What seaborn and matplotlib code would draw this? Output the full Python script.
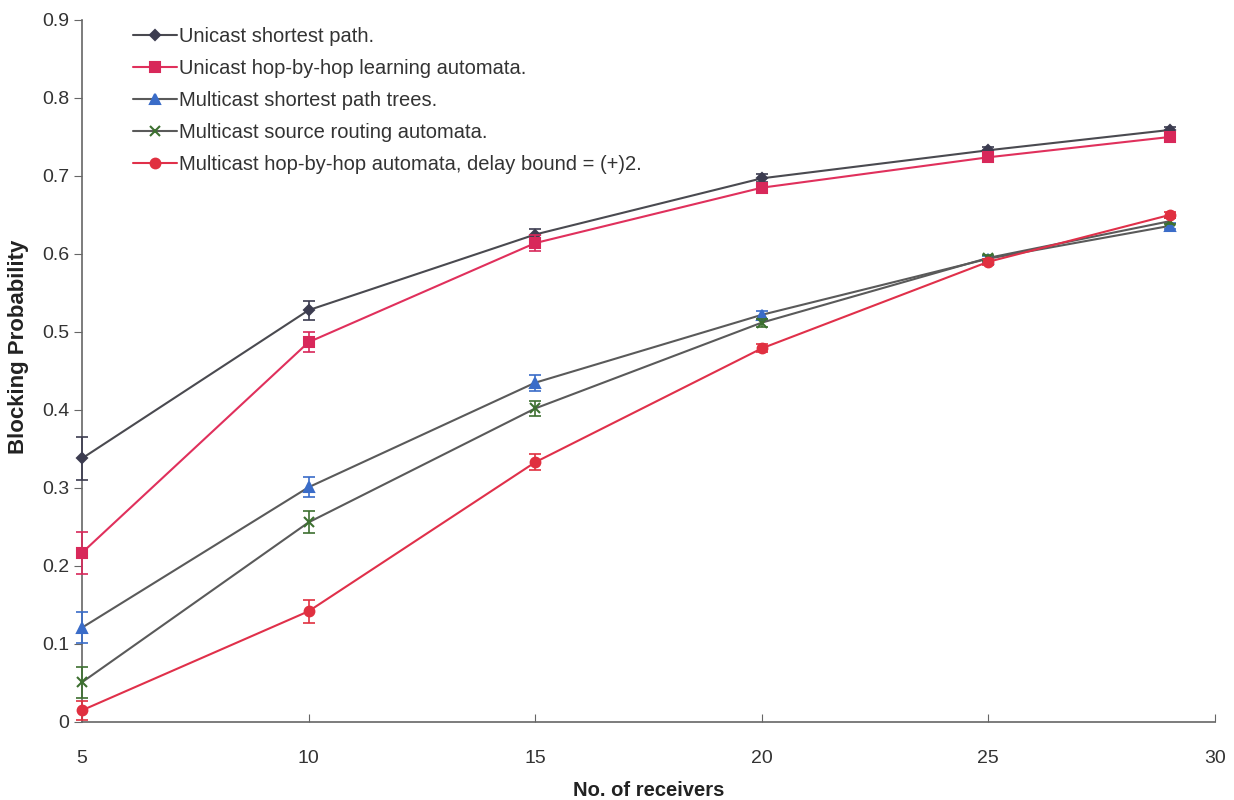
import matplotlib
matplotlib.use('Agg')
import matplotlib.pyplot as plt
import seaborn as sns

# 수신자 수 (x축)
receivers = [5, 10, 15, 20, 25, 29]

# 각 기법의 차단 확률과 오차
uni_sp = [0.338, 0.528, 0.625, 0.697, 0.733, 0.759]
uni_sp_err = [0.028, 0.012, 0.007, 0.005, 0.004, 0.004]
uni_hbh = [0.217, 0.487, 0.614, 0.685, 0.724, 0.750]
uni_hbh_err = [0.027, 0.013, 0.010, 0.005, 0.004, 0.004]
mc_spt = [0.121, 0.301, 0.435, 0.522, 0.594, 0.636]
mc_spt_err = [0.020, 0.013, 0.010, 0.005, 0.004, 0.004]
mc_src = [0.051, 0.256, 0.402, 0.512, 0.595, 0.642]
mc_src_err = [0.020, 0.014, 0.010, 0.005, 0.004, 0.004]
mc_hbh = [0.015, 0.142, 0.333, 0.479, 0.590, 0.650]
mc_hbh_err = [0.012, 0.015, 0.010, 0.005, 0.004, 0.004]

labels = ['Unicast shortest path.',
          'Unicast hop-by-hop learning automata.',
          'Multicast shortest path trees.',
          'Multicast source routing automata.',
          'Multicast hop-by-hop automata, delay bound = (+)2.']

sns.set_style('white')
plt.rcParams['font.family'] = ['Liberation Sans', 'DejaVu Sans']

fig = plt.figure(figsize=(12.34, 8), dpi=100)
ax = fig.add_axes([0.0665, 0.0975, 0.918, 0.8775])

# (값, 오차, 선 색, 마커, 마커 색, 크기)
series = [
    (uni_sp, uni_sp_err, '#4a4a50', 'D', '#3c3c50', 5),
    (uni_hbh, uni_hbh_err, '#e0305c', 's', '#d8285a', 7),
    (mc_spt, mc_spt_err, '#5a5a5a', '^', '#3a6cc8', 7),
    (mc_src, mc_src_err, '#5a5a5a', 'x', '#3d7030', 7),
    (mc_hbh, mc_hbh_err, '#e0304a', 'o', '#e03040', 7),
]

for (vals, errs, lc, mk, mc, ms), lab in zip(series, labels):
    sns.lineplot(x=receivers, y=vals, ax=ax, color=lc, linewidth=1.5,
                 marker=mk, markersize=ms, markerfacecolor=mc,
                 markeredgecolor=mc, markeredgewidth=1.5, label=lab,
                 clip_on=False, zorder=3)
    ax.errorbar(receivers, vals, yerr=errs, fmt='none', ecolor=mc,
                elinewidth=1.2, capsize=4, capthick=1.2, clip_on=False, zorder=3)

ax.set_xlim(5, 30)
ax.set_ylim(0, 0.9)
ax.set_xticks([5, 10, 15, 20, 25, 30])
ax.set_yticks([0, 0.1, 0.2, 0.3, 0.4, 0.5, 0.6, 0.7, 0.8, 0.9])
ax.set_yticklabels(['0', '0.1', '0.2', '0.3', '0.4', '0.5', '0.6', '0.7', '0.8', '0.9'])

for side in ['top', 'right']:
    ax.spines[side].set_visible(False)
for side in ['left', 'bottom']:
    ax.spines[side].set_color('#666666')
    ax.spines[side].set_linewidth(1.2)

ax.tick_params(axis='y', direction='out', length=6, color='#666666',
               labelsize=14, labelcolor='#333333', left=True, pad=3)
ax.tick_params(axis='x', direction='in', length=6, color='#666666',
               labelsize=14, labelcolor='#333333', bottom=True, pad=20)

ax.set_xlabel('No. of receivers', fontsize=14.5, fontweight='bold', color='#222222', labelpad=10)
ax.set_ylabel('Blocking Probability', fontsize=16, fontweight='bold', color='#222222')
ax.yaxis.set_label_coords(-0.047, 0.534)

ax.legend(loc='upper left', bbox_to_anchor=(0.045, 0.99), frameon=False,
          borderpad=0, borderaxespad=0,
          fontsize=14.5, handlelength=2.2, handletextpad=0.1, labelspacing=0.65,
          labelcolor='#333333')

fig.savefig('out.png', dpi=100)
